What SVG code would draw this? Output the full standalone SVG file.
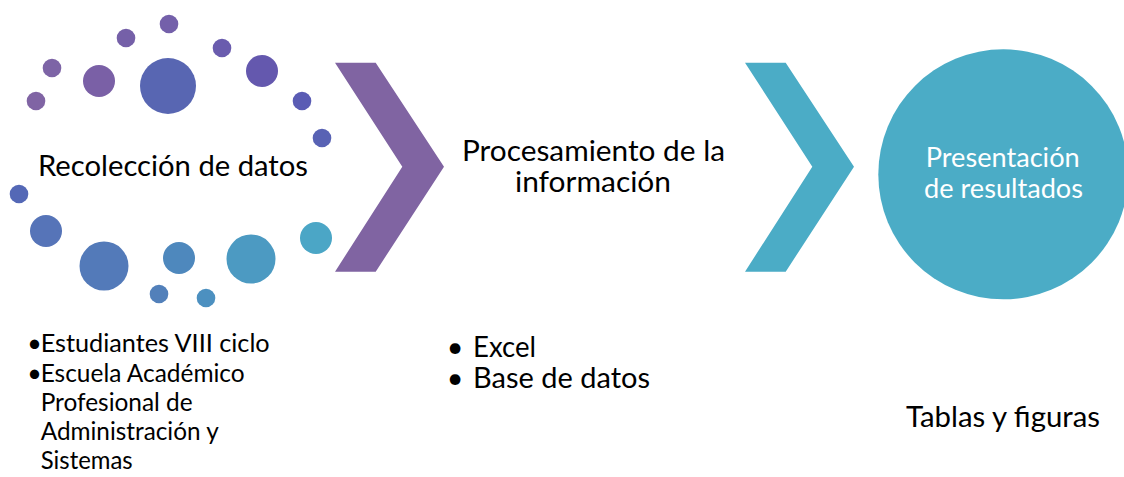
<svg xmlns="http://www.w3.org/2000/svg" width="1124" height="477" viewBox="0 0 1124 477">
  <style>
    .t { font-family: "Lato", "Open Sans", "Liberation Sans", sans-serif; fill: #000000; }
    .w { font-family: "Lato", "Open Sans", "Liberation Sans", sans-serif; fill: #ffffff; }
    .b { text-anchor: middle; }
    .purple { fill: #8064a2; }
    .teal { fill: #4bacc6; }
  </style>
  <rect x="0" y="0" width="1124" height="477" fill="#ffffff"/>

  <g id="recoleccion">
    <g id="dots">
      <circle cx="169" cy="24" r="9.3" fill="#7460aa"/>
      <circle cx="126" cy="38" r="9.3" fill="#7560a8"/>
      <circle cx="52" cy="68" r="9.3" fill="#7d64a6"/>
      <circle cx="36" cy="101" r="9.3" fill="#8064a4"/>
      <circle cx="99" cy="81" r="16" fill="#7a60a6"/>
      <circle cx="168" cy="86" r="28" fill="#5866b2"/>
      <circle cx="222" cy="48" r="9.3" fill="#6a5cae"/>
      <circle cx="262" cy="71" r="16" fill="#6458ae"/>
      <circle cx="302" cy="101" r="9.3" fill="#5a5cb4"/>
      <circle cx="322" cy="138" r="9.3" fill="#5862b4"/>
      <circle cx="19" cy="194" r="9.3" fill="#5468b6"/>
      <circle cx="46" cy="231" r="16" fill="#5674b8"/>
      <circle cx="104" cy="266" r="24.5" fill="#537ab9"/>
      <circle cx="159" cy="294" r="9.3" fill="#5280ba"/>
      <circle cx="179" cy="258" r="16" fill="#4e88bd"/>
      <circle cx="206" cy="298" r="9.3" fill="#4c90c0"/>
      <circle cx="251" cy="259" r="24.5" fill="#4c9ac2"/>
      <circle cx="316" cy="238" r="16" fill="#4ba6c6"/>
    </g>
    <text class="t" x="38" y="176" font-size="28.5" textLength="270" lengthAdjust="spacingAndGlyphs">Recolección de datos</text>
    <g id="recoleccion-items" font-size="25">
      <text class="t b" x="34.5" y="351.5">•</text>
      <text class="t" x="40.7" y="351.5" textLength="229" lengthAdjust="spacingAndGlyphs">Estudiantes VIII ciclo</text>
      <text class="t b" x="34.5" y="382">•</text>
      <text class="t" x="40.7" y="382" textLength="204" lengthAdjust="spacingAndGlyphs">Escuela Académico</text>
      <text class="t" x="40.7" y="411" textLength="152" lengthAdjust="spacingAndGlyphs">Profesional de</text>
      <text class="t" x="40.7" y="440" textLength="178" lengthAdjust="spacingAndGlyphs">Administración y</text>
      <text class="t" x="40.7" y="469" textLength="92" lengthAdjust="spacingAndGlyphs">Sistemas</text>
    </g>
  </g>

  <g id="procesamiento">
    <text class="t" x="462" y="160.7" font-size="29" textLength="263" lengthAdjust="spacingAndGlyphs">Procesamiento de la</text>
    <text class="t" x="515" y="192" font-size="29" textLength="156" lengthAdjust="spacingAndGlyphs">información</text>
    <g id="procesamiento-items" font-size="28.8">
      <text class="t b" x="455" y="356.7">•</text>
      <text class="t" x="473" y="356.7" textLength="63" lengthAdjust="spacingAndGlyphs">Excel</text>
      <text class="t b" x="455" y="387.7">•</text>
      <text class="t" x="473" y="387.7" textLength="177" lengthAdjust="spacingAndGlyphs">Base de datos</text>
    </g>
  </g>

  <g id="presentacion">
    <circle class="teal" cx="1003.3" cy="174.3" r="125"/>
    <text class="w" x="925.7" y="166.7" font-size="26" textLength="154" lengthAdjust="spacingAndGlyphs">Presentación</text>
    <text class="w" x="924" y="198" font-size="26" textLength="159" lengthAdjust="spacingAndGlyphs">de resultados</text>
    <text class="t" x="906" y="427.3" font-size="28" textLength="194" lengthAdjust="spacingAndGlyphs">Tablas y figuras</text>
  </g>

  <g id="connectors">
    <polygon class="purple" points="335,62.7 375.7,62.7 444,166.7 375.7,271.7 335,271.7 402.3,166.7"/>
    <polygon class="teal" points="745,62.7 785.7,62.7 854,166.7 785.7,271.7 745,271.7 812.3,166.7"/>
  </g>
</svg>
